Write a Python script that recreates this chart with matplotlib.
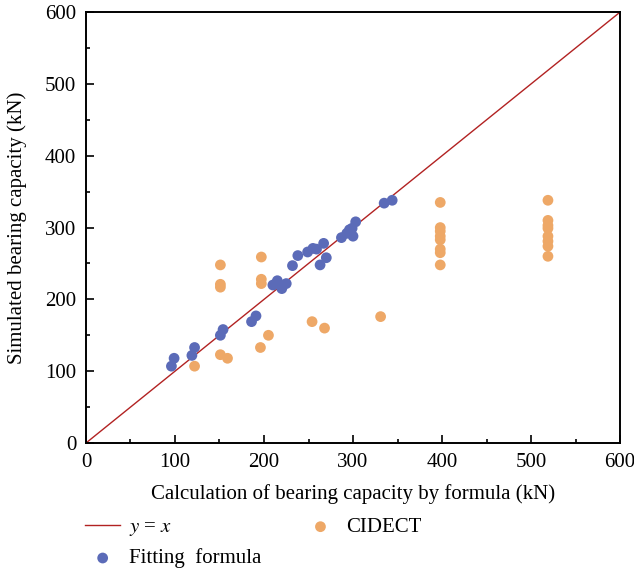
import matplotlib.pyplot as plt
from matplotlib.ticker import MultipleLocator

plt.rcParams['font.family'] = ['Liberation Serif', 'DejaVu Serif']
plt.rcParams['mathtext.fontset'] = 'stix'

# Fitting formula points (calculated, simulated)
fit_x = [96, 99, 119, 122, 151, 154, 186, 191, 210, 215, 220, 225, 232, 238,
         249, 255, 259, 267, 270, 263, 287, 293, 296, 300, 299, 303, 335, 344]
fit_y = [107, 118, 122, 133, 150, 158, 169, 177, 220, 226, 215, 222, 247, 261,
         266, 271, 270, 278, 258, 248, 286, 292, 297, 288, 299, 308, 334, 338]

# CIDECT points
cid_x = [122, 151, 159, 196, 205, 151, 151, 151, 197, 197, 197, 254, 268, 331,
         398, 398, 398, 398, 398, 398, 398, 398,
         519, 519, 519, 519, 519, 519, 519, 519]
cid_y = [107, 123, 118, 133, 150, 248, 221, 217, 259, 228, 222, 169, 160, 176,
         335, 300, 295, 288, 283, 270, 265, 248,
         338, 310, 303, 299, 288, 281, 274, 260]

line_x = [0, 600]

fig = plt.figure(figsize=(6.34, 5.77), dpi=100)
ax = fig.add_axes([0.1356, 0.2322, 0.8424, 0.7468])

ax.plot(line_x, line_x, color='#b22222', lw=1.0, label='$y$ = $x$', zorder=2)
ax.scatter(fit_x, fit_y, s=60, color='#5b6bb8', edgecolors='none',
           label='Fitting  formula', zorder=3)
ax.scatter(cid_x, cid_y, s=60, color='#eea867', edgecolors='none',
           label='CIDECT', zorder=3)

ax.set_xlim(0, 600)
ax.set_ylim(0, 600)
ax.xaxis.set_major_locator(MultipleLocator(100))
ax.yaxis.set_major_locator(MultipleLocator(100))
ax.xaxis.set_minor_locator(MultipleLocator(50))
ax.yaxis.set_minor_locator(MultipleLocator(50))
ax.tick_params(which='both', direction='in', labelsize=15, width=1.2)
ax.tick_params(which='major', length=6)
ax.tick_params(which='minor', length=3)
ax.tick_params(axis='x', pad=7)
ax.tick_params(axis='y', pad=7)
for sp in ax.spines.values():
    sp.set_linewidth(1.4)

ax.set_xlabel('Calculation of bearing capacity by formula (kN)', fontsize=15,
              labelpad=9)
ax.set_ylabel('Simulated bearing capacity (kN)', fontsize=15, labelpad=13)

leg = fig.legend(loc='upper left', bbox_to_anchor=(0.134, 0.103), ncol=2,
                 frameon=False, fontsize=15, columnspacing=2.0,
                 handlelength=1.7, handletextpad=0.4, labelspacing=0.5,
                 borderpad=0, borderaxespad=0)

fig.savefig('out.png', dpi=100)
